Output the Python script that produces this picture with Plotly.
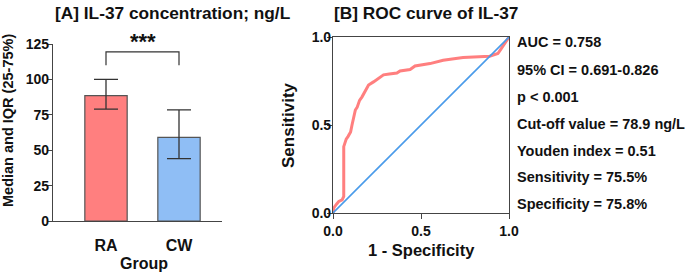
import plotly.graph_objects as go

groups = ["RA", "CW"]
medians = [88.5, 59.0]
q1 = [79.0, 44.0]
q3 = [100.0, 78.5]
bar_colors = ["#FF7F7F", "#8FBEF5"]

yticks_a = [0, 25, 50, 75, 100, 125]

roc_fpr = [0, 0.005, 0.02, 0.033, 0.052, 0.061, 0.061, 0.068, 0.075, 0.085, 0.095, 0.10,
           0.108, 0.115, 0.12, 0.127, 0.137, 0.145, 0.151, 0.165, 0.175, 0.184, 0.202,
           0.23, 0.259, 0.287, 0.32, 0.363, 0.381, 0.438, 0.466, 0.494, 0.551, 0.626,
           0.739, 0.89, 0.937, 0.956, 0.975, 1.0]
roc_tpr = [0, 0.03, 0.05, 0.066, 0.075, 0.094, 0.377, 0.405, 0.42, 0.434, 0.45, 0.46,
           0.5, 0.54, 0.557, 0.585, 0.60, 0.62, 0.64, 0.66, 0.68, 0.70, 0.727,
           0.745, 0.764, 0.785, 0.79, 0.795, 0.807, 0.815, 0.835, 0.84, 0.849, 0.868,
           0.883, 0.891, 0.906, 0.934, 0.962, 1.0]
ref_line = [0, 1]

stats_lines = ["AUC = 0.758", "95% CI = 0.691-0.826", "p < 0.001",
               "Cut-off value = 78.9 ng/L", "Youden index = 0.51",
               "Sensitivity = 75.5%", "Specificity = 75.8%"]

FONT = "Liberation Sans, Arial, sans-serif"
AX = "#444444"
TXT = "#111111"

W, H = 685, 273


def px(x):
    return x / W


def py(y):
    return 1 - y / H


fig = go.Figure()

fig.add_trace(go.Bar(
    x=[0, 1], y=medians, marker=dict(color=bar_colors, line=dict(color="#555555", width=1.2)),
    width=0.58,
    error_y=dict(type="data", symmetric=False,
                 array=[q3[i] - medians[i] for i in range(2)],
                 arrayminus=[medians[i] - q1[i] for i in range(2)],
                 color="#333333", thickness=1.3, width=12),
    xaxis="x", yaxis="y", showlegend=False, hoverinfo="skip"))

# significance bracket
fig.add_trace(go.Scatter(x=[0, 0, 1, 1], y=[110, 119.5, 119.5, 110],
                         mode="lines", line=dict(color="#333333", width=1.2),
                         xaxis="x", yaxis="y", showlegend=False, cliponaxis=False,
                         hoverinfo="skip"))

fig.add_trace(go.Scatter(x=roc_fpr, y=roc_tpr, mode="lines",
                         line=dict(color="#FF7F7F", width=3), xaxis="x2", yaxis="y2",
                         showlegend=False, cliponaxis=False))
fig.add_trace(go.Scatter(x=ref_line, y=ref_line, mode="lines",
                         line=dict(color="#4A9BEA", width=1.6), xaxis="x2", yaxis="y2",
                         showlegend=False))

tickfont = dict(family=FONT, size=14, color=TXT)

fig.update_layout(
    width=W, height=H, margin=dict(l=0, r=0, t=0, b=0),
    paper_bgcolor="white", plot_bgcolor="white",
    font=dict(family=FONT),
    xaxis=dict(domain=[px(53), px(222)], range=[-0.726, 1.589], showline=True, linecolor=AX,
               linewidth=1.2, ticks="outside", ticklen=10, tickcolor="rgba(0,0,0,0)",
               tickvals=[0, 1], ticktext=[f"<b>{g}</b>" for g in groups],
               tickfont=dict(family=FONT, size=16, color=TXT),
               showgrid=False, zeroline=False, anchor="y", automargin=False),
    yaxis=dict(domain=[py(221), py(44)], range=[0, 125], tickvals=yticks_a,
               ticktext=[f"<b>{v}</b>" for v in yticks_a],
               showline=True, linecolor=AX, linewidth=1.2, ticks="outside", ticklen=5,
               tickcolor=AX, tickfont=tickfont, showgrid=False, zeroline=False, anchor="x",
               automargin=False, ticklabelstandoff=-5),
    xaxis2=dict(domain=[px(333), px(509)], range=[0, 1], tickvals=[0, 0.5, 1],
                ticktext=["<b>0.0</b>", "<b>0.5</b>", "<b>1.0</b>"],
                showline=True, mirror=True, linecolor=AX, linewidth=1.2, ticks="outside",
                ticklen=5, tickcolor=AX, tickfont=tickfont, showgrid=False, zeroline=False,
                anchor="y2", automargin=False),
    yaxis2=dict(domain=[py(213), py(37)], range=[0, 1], tickvals=[0, 0.5, 1],
                ticktext=["<b>0.0</b>", "<b>0.5</b>", "<b>1.0</b>"],
                showline=True, mirror=True, linecolor=AX, linewidth=1.2, ticks="outside",
                ticklen=5, tickcolor=AX, tickfont=tickfont, showgrid=False, zeroline=False,
                anchor="x2", automargin=False, ticklabelstandoff=-7),
)


def ann(text, x, y, size, xanchor="center", angle=0):
    return dict(text=f"<b>{text}</b>", x=px(x), y=py(y), xref="paper", yref="paper",
                showarrow=False, font=dict(family=FONT, size=size, color=TXT),
                xanchor=xanchor, yanchor="middle", textangle=angle)


annotations = [
    ann("[A] IL-37 concentration; ng/L", 172.5, 13, 17.3),
    ann("[B] ROC curve of IL-37", 426, 13, 17.3),
    ann("***", 142.5, 41, 22),
    ann("Median and IQR (25-75%)", 8, 121, 14.5, angle=-90),
    ann("Group", 144, 263, 16),
    ann("1 - Specificity", 421, 250, 16.5),
    ann("Sensitivity", 289, 125, 17, angle=-90),
]
ys = [42, 70, 97, 124, 151, 177, 204]
for t, yy in zip(stats_lines, ys):
    annotations.append(ann(t, 515, yy, 14.5, xanchor="left"))
fig.update_layout(annotations=annotations)

fig.write_html("out.html", config={"displayModeBar": False},
               post_script="document.body.style.margin='0';document.body.style.overflow='hidden';")
